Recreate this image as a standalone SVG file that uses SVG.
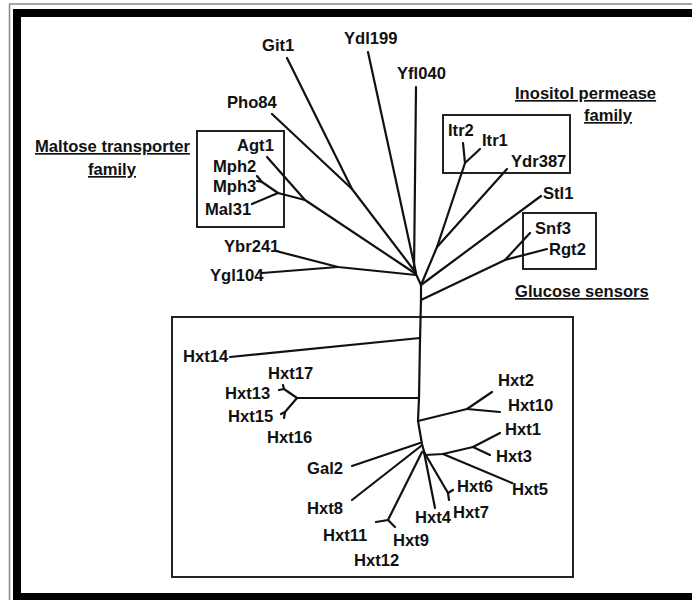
<svg xmlns="http://www.w3.org/2000/svg" width="692" height="600" viewBox="0 0 692 600">
<style>
text{font-family:"Liberation Sans",Arial,sans-serif;font-weight:bold;font-size:16.6px;fill:#111}
.u{text-decoration:underline}
.e{fill:none;stroke:#111;stroke-width:2.2;stroke-linecap:round;stroke-linejoin:round}
.box{fill:none;stroke:#222;stroke-width:2}
</style>
<rect width="692" height="600" fill="#fff"/>
<g id="frame">
<line x1="9.5" y1="4" x2="9.5" y2="600" stroke="#888" stroke-width="1.5"/>
<line x1="9" y1="4" x2="692" y2="4" stroke="#888" stroke-width="1.5"/>
<path d="M13,600 V9 H692 V17 H21 V593 H692 V600 Z" fill="#000"/>
</g>
<g id="boxes">
<rect id="box-maltose" class="box" x="197" y="131" width="87" height="96"/>
<rect id="box-inositol" class="box" x="443" y="115" width="127" height="58"/>
<rect id="box-glucose" class="box" x="523" y="213" width="73" height="56"/>
<rect id="box-hxt" class="box" x="172" y="317" width="401" height="260"/>
</g>
<g id="connectors">
<polyline class="e" points="287,58 352,189 416,273"/>
<line class="e" x1="272" y1="114" x2="352" y2="189"/>
<line class="e" x1="368" y1="52" x2="416" y2="273"/>
<line class="e" x1="416" y1="87" x2="414" y2="272"/>
<polyline class="e" points="267,157 305,200 416,274"/>
<polyline class="e" points="252,204 278,193 305,200"/>
<polyline class="e" points="262,182 278,193"/>
<polyline class="e" points="257,176 262,182 257,181"/>
<polyline class="e" points="276,251 338,267 416,275"/>
<line class="e" x1="262" y1="273" x2="338" y2="267"/>
<polyline class="e" points="463,143 465,163 437,247 421,285"/>
<line class="e" x1="480" y1="149" x2="465" y2="163"/>
<line class="e" x1="507" y1="169" x2="437" y2="247"/>
<line class="e" x1="541" y1="196" x2="421" y2="285"/>
<polyline class="e" points="530,233 505,260 421,300"/>
<line class="e" x1="547" y1="249" x2="505" y2="260"/>
<polyline class="e" points="415,272 421,285 421,300 420,340 419,398 418,421 422,444 425,455"/>
<line class="e" x1="230" y1="357" x2="420" y2="338"/>
<line class="e" x1="297" y1="398" x2="419" y2="398"/>
<polyline class="e" points="297,398 284,389 283,385"/>
<line class="e" x1="284" y1="389" x2="279" y2="390"/>
<polyline class="e" points="297,398 285,412 284,418"/>
<line class="e" x1="285" y1="412" x2="281" y2="414"/>
<polyline class="e" points="418,421 467,409 492,392"/>
<line class="e" x1="467" y1="409" x2="500" y2="412"/>
<line class="e" x1="352" y1="466" x2="420" y2="443"/>
<line class="e" x1="352" y1="500" x2="421" y2="446"/>
<polyline class="e" points="422,452 388,520 376,522"/>
<line class="e" x1="388" y1="520" x2="395" y2="527"/>
<line class="e" x1="424" y1="452" x2="435" y2="508"/>
<polyline class="e" points="424,452 448,493 453,490"/>
<line class="e" x1="448" y1="493" x2="449" y2="500"/>
<polyline class="e" points="425,455 443,454 473,447 500,433"/>
<line class="e" x1="473" y1="447" x2="490" y2="455"/>
<line class="e" x1="443" y1="454" x2="512" y2="483"/>
</g>
<g id="labels-groups">
<g id="lbl-maltose"><text class="u" x="35" y="152">Maltose transporter</text><text class="u" x="88" y="175">family</text></g>
<g id="lbl-inositol"><text class="u" x="515" y="99">Inositol permease</text><text class="u" x="584" y="121">family</text></g>
<g id="lbl-glucose"><text class="u" x="515" y="297">Glucose sensors</text></g>
</g>
<g id="n-Git1"><text x="262" y="51">Git1</text></g>
<g id="n-Ydl199"><text x="344" y="44">Ydl199</text></g>
<g id="n-Yfl040"><text x="397" y="79">Yfl040</text></g>
<g id="n-Pho84"><text x="227" y="108">Pho84</text></g>
<g id="n-Agt1"><text x="237" y="151">Agt1</text></g>
<g id="n-Mph2"><text x="213" y="172">Mph2</text></g>
<g id="n-Mph3"><text x="213" y="192">Mph3</text></g>
<g id="n-Mal31"><text x="205" y="215">Mal31</text></g>
<g id="n-Ybr241"><text x="224" y="252">Ybr241</text></g>
<g id="n-Ygl104"><text x="210" y="281">Ygl104</text></g>
<g id="n-Itr2"><text x="448" y="136">Itr2</text></g>
<g id="n-Itr1"><text x="482" y="146">Itr1</text></g>
<g id="n-Ydr387"><text x="511" y="167">Ydr387</text></g>
<g id="n-Stl1"><text x="543" y="199">Stl1</text></g>
<g id="n-Snf3"><text x="535" y="234">Snf3</text></g>
<g id="n-Rgt2"><text x="549" y="255">Rgt2</text></g>
<g id="n-Hxt14"><text x="183" y="362">Hxt14</text></g>
<g id="n-Hxt17"><text x="268" y="379">Hxt17</text></g>
<g id="n-Hxt13"><text x="225" y="399">Hxt13</text></g>
<g id="n-Hxt15"><text x="228" y="422">Hxt15</text></g>
<g id="n-Hxt16"><text x="267" y="443">Hxt16</text></g>
<g id="n-Gal2"><text x="307" y="474">Gal2</text></g>
<g id="n-Hxt8"><text x="307" y="514">Hxt8</text></g>
<g id="n-Hxt11"><text x="323" y="541">Hxt11</text></g>
<g id="n-Hxt9"><text x="393" y="546">Hxt9</text></g>
<g id="n-Hxt12"><text x="354" y="566">Hxt12</text></g>
<g id="n-Hxt4"><text x="415" y="523">Hxt4</text></g>
<g id="n-Hxt7"><text x="453" y="518">Hxt7</text></g>
<g id="n-Hxt6"><text x="457" y="492">Hxt6</text></g>
<g id="n-Hxt2"><text x="498" y="386">Hxt2</text></g>
<g id="n-Hxt10"><text x="508" y="411">Hxt10</text></g>
<g id="n-Hxt1"><text x="505" y="435">Hxt1</text></g>
<g id="n-Hxt3"><text x="496" y="462">Hxt3</text></g>
<g id="n-Hxt5"><text x="512" y="495">Hxt5</text></g>
</svg>
